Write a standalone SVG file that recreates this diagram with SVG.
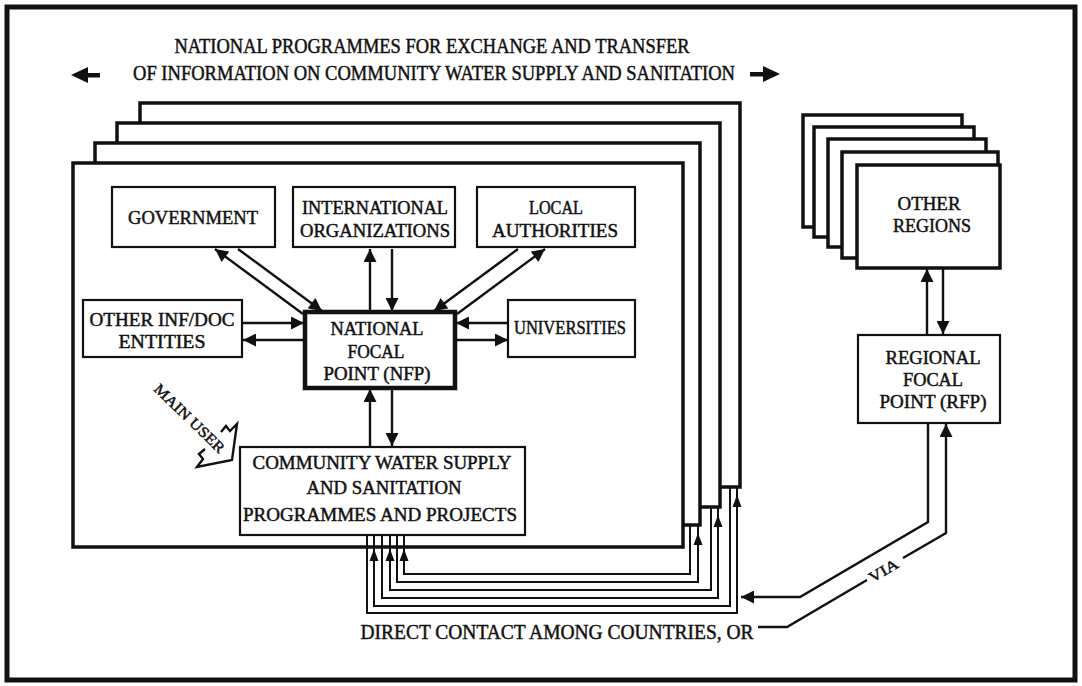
<svg xmlns="http://www.w3.org/2000/svg" xmlns:xlink="http://www.w3.org/1999/xlink" width="1082" height="686" viewBox="0 0 1082 686">
  <style>
    text { font-family: "Liberation Serif", "DejaVu Serif", serif; fill: #111; stroke: #111; stroke-width: 0.45; }
    .title { font-size: 20px; text-anchor: middle; }
    .lbl { font-size: 18px; text-anchor: middle; }
    .small { font-size: 15px; text-anchor: middle; }
    .sheet { fill: #fff; stroke: #111; stroke-width: 3.5; }
    .box { fill: #fff; stroke: #111; stroke-width: 2.2; }
    .focal { fill: #fff; stroke: #111; stroke-width: 4.5; }
    .ln { fill: none; stroke: #111; stroke-width: 2.4; }
    .thin { fill: none; stroke: #111; stroke-width: 2; }
    .head { fill: #111; }
  </style>
  <defs>
    <marker id="ah" viewBox="0 0 12 12" refX="12" refY="6" markerWidth="14" markerHeight="13" markerUnits="userSpaceOnUse" orient="auto">
      <path d="M0,0 L12,6 L0,12 z" fill="#111"/>
    </marker>
    <path id="tipUp" d="M0,0 L-4.5,12 L4.5,12 z"/>
  </defs>

  <!-- page frame -->
  <rect x="7" y="7" width="1068" height="673" fill="#fff" stroke="#111" stroke-width="5"/>

  <!-- heading -->
  <g id="heading">
    <text class="title" x="432" y="53" textLength="515" lengthAdjust="spacingAndGlyphs">NATIONAL PROGRAMMES FOR EXCHANGE AND TRANSFER</text>
    <text class="title" x="434" y="80" textLength="602" lengthAdjust="spacingAndGlyphs">OF INFORMATION ON COMMUNITY WATER SUPPLY AND SANITATION</text>
    <path class="head" d="M71,75 L88,67 L88,73 L100,73 L100,77.5 L88,77.5 L88,83 z"/>
    <path class="head" d="M780,74 L763,66 L763,72 L750,72 L750,76.5 L763,76.5 L763,82 z"/>
  </g>

  <!-- stacked national programme sheets, back to front -->
  <g id="national-programmes">
    <rect class="sheet" x="140" y="103" width="600" height="384"/>
    <rect class="sheet" x="117" y="123" width="603" height="384"/>
    <rect class="sheet" x="95" y="143" width="605" height="382"/>
    <rect class="sheet" x="73" y="163" width="610" height="384"/>
  </g>

  <!-- stacked regional sheets, back to front -->
  <g id="other-regions">
    <rect class="sheet" x="803" y="115" width="159" height="112"/>
    <rect class="sheet" x="814" y="127" width="160" height="110"/>
    <rect class="sheet" x="828" y="139" width="158" height="108"/>
    <rect class="sheet" x="842" y="152" width="156" height="106"/>
    <rect class="sheet" x="857" y="165" width="143" height="103"/>
    <text class="lbl" x="929" y="210" textLength="63" lengthAdjust="spacingAndGlyphs">OTHER</text>
    <text class="lbl" x="932" y="232" textLength="78" lengthAdjust="spacingAndGlyphs">REGIONS</text>
  </g>

  <g id="government">
    <rect class="box" x="112" y="187" width="163" height="60"/>
    <text class="lbl" x="193" y="224" textLength="130" lengthAdjust="spacingAndGlyphs" style="font-size:19px">GOVERNMENT</text>
  </g>

  <g id="international-organizations">
    <rect class="box" x="293" y="187" width="162" height="60"/>
    <text class="lbl" x="375" y="214" textLength="146" lengthAdjust="spacingAndGlyphs">INTERNATIONAL</text>
    <text class="lbl" x="375" y="237" textLength="150" lengthAdjust="spacingAndGlyphs">ORGANIZATIONS</text>
  </g>

  <g id="local-authorities">
    <rect class="box" x="477" y="187" width="158" height="60"/>
    <text class="lbl" x="556" y="214" textLength="54" lengthAdjust="spacingAndGlyphs">LOCAL</text>
    <text class="lbl" x="555" y="237" textLength="126" lengthAdjust="spacingAndGlyphs">AUTHORITIES</text>
  </g>

  <g id="other-inf-doc">
    <rect class="box" x="83" y="300" width="159" height="57"/>
    <text class="lbl" x="162" y="326" textLength="145" lengthAdjust="spacingAndGlyphs">OTHER INF/DOC</text>
    <text class="lbl" x="162" y="348" textLength="87" lengthAdjust="spacingAndGlyphs">ENTITIES</text>
  </g>

  <g id="national-focal-point">
    <rect class="focal" x="305" y="312" width="150" height="76"/>
    <text class="lbl" x="377" y="335" textLength="93" lengthAdjust="spacingAndGlyphs">NATIONAL</text>
    <text class="lbl" x="376" y="358" textLength="57" lengthAdjust="spacingAndGlyphs">FOCAL</text>
    <text class="lbl" x="377" y="380" textLength="107" lengthAdjust="spacingAndGlyphs">POINT (NFP)</text>
  </g>

  <g id="universities">
    <rect class="box" x="508" y="300" width="127" height="57"/>
    <text class="lbl" x="570" y="334" textLength="112" lengthAdjust="spacingAndGlyphs">UNIVERSITIES</text>
  </g>

  <g id="community-programmes">
    <rect class="box" x="240" y="447" width="285" height="88"/>
    <text class="lbl" x="382" y="469" textLength="259" lengthAdjust="spacingAndGlyphs">COMMUNITY WATER SUPPLY</text>
    <text class="lbl" x="384" y="494" textLength="155" lengthAdjust="spacingAndGlyphs">AND SANITATION</text>
    <text class="lbl" x="380" y="521" textLength="274" lengthAdjust="spacingAndGlyphs">PROGRAMMES AND PROJECTS</text>
  </g>

  <g id="main-user">
    <text class="small" x="0" y="0" transform="translate(186,422) rotate(44)" textLength="92" lengthAdjust="spacingAndGlyphs">MAIN USER</text>
    <path class="ln" d="M221,432 L226,426 L230,431 L237,424 L232,460 L197,467 L203,459 L199,454 L205,449"/>
  </g>

  <g id="regional-focal-point">
    <rect class="box" x="858" y="335" width="142" height="88"/>
    <text class="lbl" x="933" y="364" textLength="95" lengthAdjust="spacingAndGlyphs">REGIONAL</text>
    <text class="lbl" x="933" y="386" textLength="60" lengthAdjust="spacingAndGlyphs">FOCAL</text>
    <text class="lbl" x="933" y="408" textLength="107" lengthAdjust="spacingAndGlyphs">POINT (RFP)</text>
  </g>

  <g id="contact-note">
    <text class="title" x="557" y="639" textLength="393" lengthAdjust="spacingAndGlyphs">DIRECT CONTACT AMONG COUNTRIES, OR</text>
    <text class="small" x="0" y="0" transform="translate(886,575) rotate(-30.5)" textLength="32" lengthAdjust="spacingAndGlyphs">VIA</text>
  </g>

  <g id="connectors">
    <!-- government -->
    <path class="ln" d="M303,314 L215,249" marker-end="url(#ah)"/>
    <path class="ln" d="M238,249 L322,311" marker-end="url(#ah)"/>
    <!-- international organizations -->
    <path class="ln" d="M370,311 V249" marker-end="url(#ah)"/>
    <path class="ln" d="M392,249 V311" marker-end="url(#ah)"/>
    <!-- local authorities -->
    <path class="ln" d="M518,249 L434,311" marker-end="url(#ah)"/>
    <path class="ln" d="M457,314 L545,249" marker-end="url(#ah)"/>
    <!-- other inf/doc entities -->
    <path class="ln" d="M242,323 H304" marker-end="url(#ah)"/>
    <path class="ln" d="M305,340 H243" marker-end="url(#ah)"/>
    <!-- universities -->
    <path class="ln" d="M508,323 H456" marker-end="url(#ah)"/>
    <path class="ln" d="M456,340 H508" marker-end="url(#ah)"/>
    <!-- community programmes -->
    <path class="ln" d="M370,447 V389" marker-end="url(#ah)"/>
    <path class="ln" d="M392,389 V446" marker-end="url(#ah)"/>
    <!-- other regions / regional focal point -->
    <path class="ln" d="M927,335 V269" marker-end="url(#ah)"/>
    <path class="ln" d="M943,268 V334" marker-end="url(#ah)"/>

    <!-- links between the country sheets -->
    <path class="thin" d="M367,535 V613 H737 V488"/>
    <path class="thin" d="M730,488 V606 H374 V535"/>
    <path class="thin" d="M382,535 V598 H718 V508"/>
    <path class="thin" d="M711,508 V590 H390 V535"/>
    <path class="thin" d="M397,535 V582 H698 V526"/>
    <path class="thin" d="M690,526 V574 H404 V535"/>
    <use class="head" xlink:href="#tipUp" x="374" y="549"/>
    <use class="head" xlink:href="#tipUp" x="390" y="549"/>
    <use class="head" xlink:href="#tipUp" x="404" y="549"/>
    <use class="head" xlink:href="#tipUp" x="698" y="533"/>
    <use class="head" xlink:href="#tipUp" x="718" y="515"/>
    <use class="head" xlink:href="#tipUp" x="737" y="495"/>

    <!-- route via the regional focal point -->
    <path class="ln" d="M928,423 V522 L800,597 H741" marker-end="url(#ah)"/>
    <path class="ln" d="M758,627 H787 L867,580"/>
    <path class="ln" d="M903,558 L946,533 V424" marker-end="url(#ah)"/>
  </g>
</svg>
